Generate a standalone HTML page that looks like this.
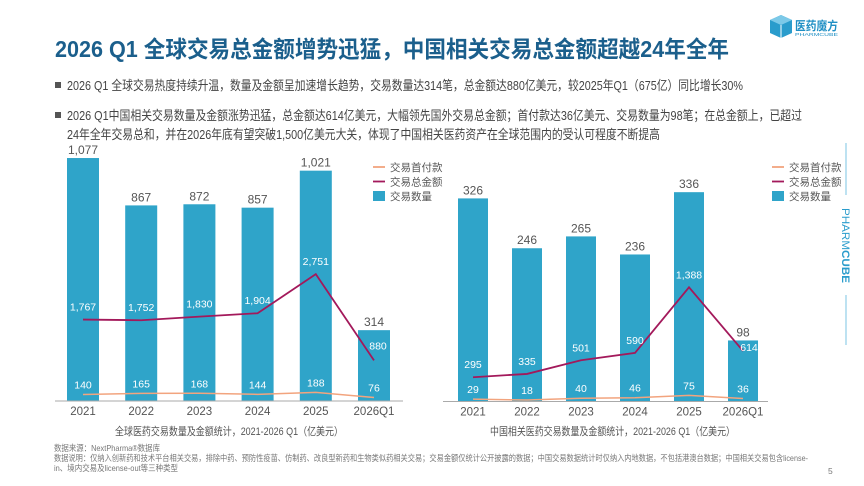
<!DOCTYPE html>
<html lang="zh">
<head>
<meta charset="utf-8">
<style>
  html,body{margin:0;padding:0;background:#fff;}
  svg{display:block;font-family:"Liberation Sans","Noto Sans CJK SC",sans-serif;}
</style>
</head>
<body>
<svg id="slide" width="864" height="486" viewBox="0 0 864 486" xmlns="http://www.w3.org/2000/svg">
  <rect width="864" height="486" fill="#ffffff"/>

  <!-- logo -->
  <g>
    <polygon points="781,15 792,20 792,33 781,38 770,33 770,20" fill="#2a9ccc"/>
    <polygon points="781,15 792,20 781,25 770,20" fill="#7cc9e8"/>
    <line x1="781" y1="25" x2="781" y2="38" stroke="#fff" stroke-width="1"/>
    <text x="795" y="30" font-size="12" font-weight="bold" fill="#1f8fc4" textLength="43" lengthAdjust="spacingAndGlyphs">医药魔方</text>
    <text x="795" y="36" font-size="4.5" fill="#1f8fc4" textLength="43" lengthAdjust="spacingAndGlyphs">PHARMCUBE</text>
  </g>

  <!-- title -->
  <text x="55" y="57" font-size="23" font-weight="bold" fill="#1b5f8c" textLength="674" lengthAdjust="spacingAndGlyphs">2026 Q1 全球交易总金额增势迅猛，中国相关交易总金额超越24年全年</text>

  <!-- bullets -->
  <g font-size="13" fill="#444">
    <rect x="55" y="82" width="6" height="6" fill="#555"/>
    <text x="67" y="90" textLength="676" lengthAdjust="spacingAndGlyphs">2026 Q1 全球交易热度持续升温，数量及金额呈加速增长趋势，交易数量达314笔，总金额达880亿美元，较2025年Q1（675亿）同比增长30%</text>
    <rect x="55" y="112" width="6" height="6" fill="#555"/>
    <text x="67" y="120" textLength="735" lengthAdjust="spacingAndGlyphs">2026 Q1中国相关交易数量及金额涨势迅猛，总金额达614亿美元，大幅领先国外交易总金额；首付款达36亿美元、交易数量为98笔；在总金额上，已超过</text>
    <text x="67" y="139" textLength="593" lengthAdjust="spacingAndGlyphs">24年全年交易总和，并在2026年底有望突破1,500亿美元大关，体现了中国相关医药资产在全球范围内的受认可程度不断提高</text>
  </g>

  <!-- PHARMCUBE side -->
  <g>
    <line x1="846" y1="143" x2="846" y2="195" stroke="#5bb6dd" stroke-width="0.8"/>
    <line x1="846" y1="295" x2="846" y2="345" stroke="#5bb6dd" stroke-width="0.8"/>
    <text transform="translate(842,208) rotate(90)" font-size="11" fill="#2a9ccc" textLength="75" lengthAdjust="spacingAndGlyphs">PHARM<tspan font-weight="bold">CUBE</tspan></text>
  </g>

  <g id="chart-left"></g>
  <g id="chart-right"></g>

  <!-- captions -->
  <text x="115" y="435" font-size="11" fill="#555" textLength="228" lengthAdjust="spacingAndGlyphs">全球医药交易数量及金额统计，2021-2026 Q1（亿美元）</text>
  <text x="490" y="435" font-size="11" fill="#555" textLength="245" lengthAdjust="spacingAndGlyphs">中国相关医药交易数量及金额统计，2021-2026 Q1（亿美元）</text>

  <!-- footer -->
  <g font-size="8.5" fill="#777">
    <text x="54" y="451" textLength="106" lengthAdjust="spacingAndGlyphs">数据来源：NextPharma®数据库</text>
    <text x="54" y="461" textLength="754" lengthAdjust="spacingAndGlyphs">数据说明：仅纳入创新药和技术平台相关交易，排除中药、预防性疫苗、仿制药、改良型新药和生物类似药相关交易；交易金额仅统计公开披露的数据；中国交易数据统计时仅纳入内地数据，不包括港澳台数据；中国相关交易包含license-</text>
    <text x="54" y="471" textLength="124" lengthAdjust="spacingAndGlyphs">in、境内交易及license-out等三种类型</text>
    <text x="828" y="474">5</text>
  </g>
</svg>

<script>
// Shared categories
const categories = ['2021','2022','2023','2024','2025','2026Q1'];
// Global chart data
const globalCounts = [1077, 867, 872, 857, 1021, 314];
const globalTotals = [1767, 1752, 1830, 1904, 2751, 880];
const globalUpfront = [140, 165, 168, 144, 188, 76];
// China chart data
const chinaCounts = [326, 246, 265, 236, 336, 98];
const chinaTotals = [295, 335, 501, 590, 1388, 614];
const chinaUpfront = [29, 18, 40, 46, 75, 36];
const legendLabels = ['交易首付款','交易总金额','交易数量'];

const NS = 'http://www.w3.org/2000/svg';
function mk(tag, attrs, parent){
  const e = document.createElementNS(NS, tag);
  for (const k in attrs) e.setAttribute(k, attrs[k]);
  parent.appendChild(e);
  return e;
}
function fmt(v){ return v.toLocaleString('en-US'); }

function drawChart(g, cfg, counts, totals, upfront){
  const xPos = i => cfg.x0 + i * cfg.step;
  const yBar = v => cfg.base - v * cfg.barScale;
  const yLine = v => cfg.base - v * cfg.lineScale;

  counts.forEach((v, i) => {
    const r = mk('rect', {x: xPos(i) - cfg.bw/2, y: yBar(v), width: cfg.bw, height: v * cfg.barScale, fill: '#2fa4c9'}, g);
    
    
    const t = mk('text', {x: xPos(i), y: yBar(v) - 4, 'font-size': 12, fill: '#555', 'text-anchor': 'middle'}, g);
    
    
    t.textContent = fmt(v);
  });

  const ax = mk('line', {x1: cfg.axL, x2: cfg.axR, y1: cfg.base, y2: cfg.base, stroke: '#aaa', 'stroke-width': 1}, g);
  
  
  categories.forEach((c, i) => {
    const t = mk('text', {x: xPos(i), y: cfg.base + 14, 'font-size': 11.5, fill: '#555', 'text-anchor': 'middle'}, g);
    
    
    t.textContent = c;
  });

  const upPts = upfront.map((v, i) => xPos(i) + ',' + yLine(v)).join(' ');
  const up = mk('polyline', {points: upPts, fill: 'none', stroke: '#f2a47e', 'stroke-width': 1.5}, g);
  
  
  const totPts = totals.map((v, i) => xPos(i) + ',' + yLine(v)).join(' ');
  const tot = mk('polyline', {points: totPts, fill: 'none', stroke: '#a3195b', 'stroke-width': 1.8}, g);
  
  

  totals.forEach((v, i) => {
    const last = i === totals.length - 1;
    const t = mk('text', {x: xPos(i) + (last ? cfg.lastDx : 0), y: yLine(v) + (last ? cfg.lastDy : -9), 'font-size': 10.5, fill: '#fff', 'text-anchor': 'middle'}, g);
    
    
    t.textContent = fmt(v);
  });
  upfront.forEach((v, i) => {
    const t = mk('text', {x: xPos(i), y: yLine(v) - 6, 'font-size': 10.5, fill: '#fff', 'text-anchor': 'middle'}, g);
    
    
    t.textContent = fmt(v);
  });

  const lg = mk('g', {}, g);
  
  
  const colors = ['#f2a47e', '#a3195b', '#2fa4c9'];
  legendLabels.forEach((lab, i) => {
    const y = cfg.legY + i * 14.5;
    if (i < 2) {
      mk('line', {x1: cfg.legX, x2: cfg.legX + 12, y1: y, y2: y, stroke: colors[i], 'stroke-width': 1.8}, lg);
    } else {
      mk('rect', {x: cfg.legX, y: y - 5, width: 12, height: 10, fill: colors[i]}, lg);
    }
    const t = mk('text', {x: cfg.legX + 17, y: y + 4, 'font-size': 10.5, fill: '#555'}, lg);
    
    
    t.textContent = lab;
  });
}

drawChart(document.getElementById('chart-left'),
  {x0: 83, step: 58.2, bw: 32, base: 401, barScale: 0.2256, lineScale: 0.0461,
   axL: 55, axR: 403, legX: 373, legY: 167, lastDx: 4, lastDy: -11},
  globalCounts, globalTotals, globalUpfront);

drawChart(document.getElementById('chart-right'),
  {x0: 473, step: 54, bw: 30, base: 401.5, barScale: 0.623, lineScale: 0.0823,
   axL: 443, axR: 768, legX: 772, legY: 167, lastDx: 6, lastDy: 0},
  chinaCounts, chinaTotals, chinaUpfront);
</script>
</body>
</html>
